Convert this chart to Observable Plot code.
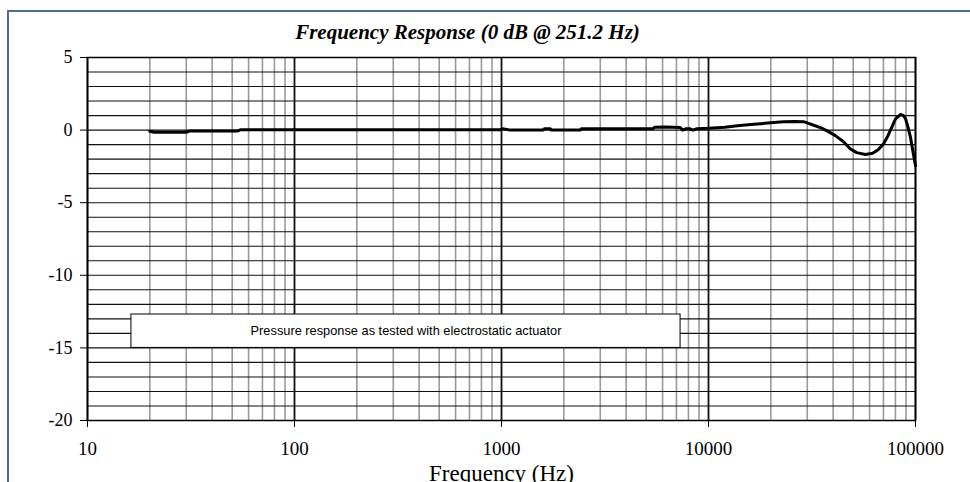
<!DOCTYPE html>
<html>
<head>
<meta charset="utf-8">
<script src="https://cdn.jsdelivr.net/npm/d3@7"></script>
<script src="https://cdn.jsdelivr.net/npm/@observablehq/plot@0.6"></script>
<style>
  html, body { margin: 0; padding: 0; background: #fff; }
  #wrap { position: relative; width: 970px; height: 482px; overflow: hidden; background: #fff; }
  #border { position: absolute; left: 7px; top: 10px; width: 1000px; height: 500px; border-top: 2px solid #4f6c8a; border-left: 2px solid #4f6c8a; pointer-events: none; }
  #chart { position: absolute; left: 0; top: 0; }
</style>
</head>
<body>
<div id="wrap">
  <div id="chart"></div>
  <div id="border"></div>
</div>
<script>
// ---- data ----
const title = "Frequency Response (0 dB @ 251.2 Hz)";
const xLabel = "Frequency (Hz)";
const note = "Pressure response as tested with electrostatic actuator";

const xTicks = [10, 100, 1000, 10000, 100000];
const yTicks = [-20, -15, -10, -5, 0, 5];

const freq = [20, 21, 30, 31, 53, 55, 100, 500, 990, 1010, 1100, 1590, 1610, 1720, 1740, 2400, 2430,
  5400, 5500, 6200, 7300, 7500, 7800, 8100, 8400, 8800, 10000, 12000, 13800, 16000, 20000, 23000,
  26000, 28800, 32000, 35000, 37600, 41000, 44900, 48500, 52000, 57300, 62000, 66000, 70000, 73000,
  75700, 80000, 84700, 87500, 89500, 92000, 94600, 97000, 100000];
const db = [-0.08, -0.15, -0.15, -0.07, -0.07, 0.03, 0.03, 0.03, 0.03, 0.1, 0.0, 0.0, 0.1, 0.1, 0.0, 0.0, 0.09,
  0.09, 0.2, 0.22, 0.18, 0.0, 0.1, 0.1, 0.0, 0.1, 0.13, 0.2, 0.3, 0.38, 0.5, 0.58,
  0.6, 0.58, 0.35, 0.15, -0.07, -0.38, -0.8, -1.3, -1.55, -1.68, -1.6, -1.35, -0.95, -0.5,
  0.0, 0.75, 1.08, 1.0, 0.78, 0.2, -0.5, -1.4, -2.45];

// annotation box extent in data units
const noteFreq = [16.3, 7330];
const noteDb = [-12.7, -15];

// ---- derived tables ----
const curve = freq.map((f, i) => ({f, v: db[i]}));
const minorX = [];
for (const d of xTicks.slice(0, -1)) for (let k = 2; k <= 9; k++) minorX.push(d * k);
const gridY = d3.range(-20, 6);

const chart = Plot.plot({
  width: 970,
  height: 482,
  marginLeft: 87,
  marginRight: 55,
  marginTop: 57,
  marginBottom: 62,
  style: {fontFamily: "'Liberation Serif', 'Times New Roman', serif", color: "#000", background: "transparent"},
  x: {type: "log", domain: [10, 100000]},
  y: {domain: [-20, 5]},
  marks: [
    Plot.ruleX(minorX, {stroke: "#9a9a9a", strokeWidth: 1.6}),
    Plot.ruleY(gridY, {stroke: "#111", strokeWidth: 1.1}),
    Plot.ruleX(xTicks, {stroke: "#111", strokeWidth: 1.8}),
    Plot.frame({stroke: "#000", strokeWidth: 1.5}),
    Plot.axisY({ticks: yTicks, tickSize: 7, tickPadding: 8, fontSize: 18, label: null, tickFormat: d => String(d)}),
    Plot.axisX({ticks: xTicks, tickSize: 7, tickPadding: 14, fontSize: 19, label: null, tickFormat: d => String(d)}),
    Plot.line(curve, {x: "f", y: "v", stroke: "#000", strokeWidth: 3, strokeLinejoin: "round"}),
    Plot.rect([{}], {x1: () => noteFreq[0], x2: () => noteFreq[1], y1: () => noteDb[0], y2: () => noteDb[1], fill: "#fff", stroke: "#000", strokeWidth: 1}),
    Plot.text([note], {x: Math.sqrt(noteFreq[0] * noteFreq[1]), y: (noteDb[0] + noteDb[1]) / 2, text: d => d, fontFamily: "'Liberation Sans', Arial, sans-serif", fontSize: 12.8, fill: "#000"}),
    Plot.text([title], {frameAnchor: "top", dx: -34, dy: -19, lineAnchor: "bottom", text: d => d, fontSize: 21, fontWeight: "bold", fontStyle: "italic", fill: "#000"}),
    Plot.text([xLabel], {frameAnchor: "bottom", dy: 60, lineAnchor: "bottom", text: d => d, fontSize: 23, fill: "#000"})
  ]
});
document.getElementById("chart").appendChild(chart);
</script>
</body>
</html>
